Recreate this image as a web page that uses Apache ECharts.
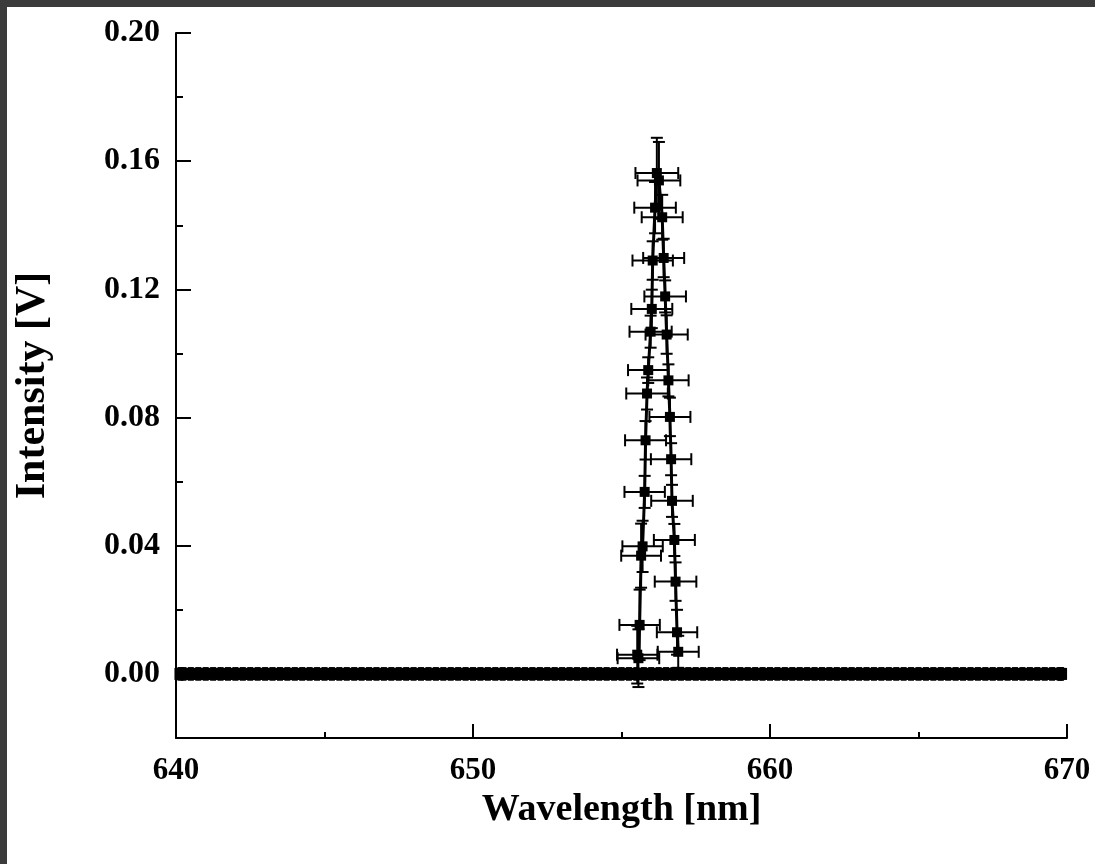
<!DOCTYPE html>
<html>
  <head>
    <meta charset="UTF-8" />
    <title>Wavelength scan</title>
    <script src="https://cdn.jsdelivr.net/npm/echarts@6/dist/echarts.min.js"></script>
    <style>
      body { margin: 0; background: #3b3b3b; }
      #chart { position: absolute; left: 7px; top: 7px; width: 1088px; height: 857px; background: #fff; }
    </style>
  </head>
  <body>
    <div id="chart"></div>
  </body>
  <script>
// peak: up the left branch, then down the right branch
const peakWave = [655.53, 655.57, 655.61, 655.66, 655.71, 655.78, 655.81, 655.86, 655.90, 655.98, 656.02, 656.05, 656.13, 656.19,
                  656.26, 656.37, 656.42, 656.47, 656.52, 656.58, 656.63, 656.67, 656.70, 656.78, 656.82, 656.87, 656.91];
const peakIntensity = [0.0060, 0.0049, 0.0153, 0.0369, 0.0398, 0.0568, 0.0729, 0.0875, 0.0948, 0.1068, 0.1139, 0.1290, 0.1455, 0.1563,
                       0.1540, 0.1425, 0.1298, 0.1178, 0.1059, 0.0916, 0.0802, 0.0670, 0.0540, 0.0418, 0.0288, 0.0130, 0.0069];
const peakWaveErr = [0.68, 0.70, 0.68, 0.67, 0.68, 0.68, 0.69, 0.70, 0.68, 0.71, 0.69, 0.68, 0.70, 0.72,
                     0.72, 0.69, 0.69, 0.70, 0.71, 0.68, 0.69, 0.68, 0.70, 0.69, 0.70, 0.68, 0.69];
const peakIntensityErr = [0.009, 0.009, 0.011, 0.010, 0.008, 0.005, 0.006, 0.005, 0.004, 0.005, 0.006, 0.006, 0.008, 0.011,
                          0.012, 0.007, 0.006, 0.005, 0.006, 0.005, 0.006, 0.005, 0.005, 0.005, 0.006, 0.007, 0.005];

// flat background readings
const baseWave = [
  640.15, 640.25, 640.5, 640.75, 641, 641.25, 641.5, 641.75, 642, 642.25, 642.5, 642.75,
  643, 643.25, 643.5, 643.75, 644, 644.25, 644.5, 644.75, 645, 645.25, 645.5, 645.75,
  646, 646.25, 646.5, 646.75, 647, 647.25, 647.5, 647.75, 648, 648.25, 648.5, 648.75,
  649, 649.25, 649.5, 649.75, 650, 650.25, 650.5, 650.75, 651, 651.25, 651.5, 651.75,
  652, 652.25, 652.5, 652.75, 653, 653.25, 653.5, 653.75, 654, 654.25, 654.5, 654.75,
  655, 655.25, 655.5, 655.75, 656, 656.25, 656.5, 656.75, 657, 657.25, 657.5, 657.75,
  658, 658.25, 658.5, 658.75, 659, 659.25, 659.5, 659.75, 660, 660.25, 660.5, 660.75,
  661, 661.25, 661.5, 661.75, 662, 662.25, 662.5, 662.75, 663, 663.25, 663.5, 663.75,
  664, 664.25, 664.5, 664.75, 665, 665.25, 665.5, 665.75, 666, 666.25, 666.5, 666.75,
  667, 667.25, 667.5, 667.75, 668, 668.25, 668.5, 668.75, 669, 669.25, 669.5, 669.75, 669.8
];
const baseIntensity = 0;
const baseIntensityErr = 0.0019;

const xTicks = [640, 650, 660, 670];
const yTicks = [0, 0.04, 0.08, 0.12, 0.16, 0.20];
const yMinorTicks = [0.02, 0.06, 0.10, 0.14, 0.18];

const serif = "'Liberation Serif', 'Times New Roman', serif";

let myChart = echarts.init(document.getElementById('chart'));

const peakData = peakWave.map((w, i) => [w, peakIntensity[i]]);
const peakErrData = peakWave.map((w, i) => [w, peakIntensity[i], peakWaveErr[i], peakIntensityErr[i]]);
const baseData = baseWave.map(w => [w, baseIntensity]);
const baseErrData = baseWave.map(w => [w, baseIntensity, 0, baseIntensityErr]);

function makeErrorBars(cap, lw, color) {
  return function (params, api) {
    const x = api.value(0), y = api.value(1), ex = api.value(2), ey = api.value(3);
    const style = { stroke: color, lineWidth: lw, fill: null };
    const kids = [];
    const lo = api.coord([x, y - ey]);
    const hi = api.coord([x, y + ey]);
    kids.push({ type: 'line', shape: { x1: lo[0], y1: lo[1], x2: hi[0], y2: hi[1] }, style });
    kids.push({ type: 'line', shape: { x1: lo[0] - cap, y1: lo[1], x2: lo[0] + cap, y2: lo[1] }, style });
    kids.push({ type: 'line', shape: { x1: hi[0] - cap, y1: hi[1], x2: hi[0] + cap, y2: hi[1] }, style });
    if (ex > 0) {
      const le = api.coord([x - ex, y]);
      const ri = api.coord([x + ex, y]);
      kids.push({ type: 'line', shape: { x1: le[0], y1: le[1], x2: ri[0], y2: ri[1] }, style });
      kids.push({ type: 'line', shape: { x1: le[0], y1: le[1] - cap, x2: le[0], y2: le[1] + cap }, style });
      kids.push({ type: 'line', shape: { x1: ri[0], y1: ri[1] - cap, x2: ri[0], y2: ri[1] + cap }, style });
    }
    return { type: 'group', children: kids };
  };
}

myChart.setOption({
  animation: false,
  grid: { left: 169, top: 26, right: 28, bottom: 126, outerBoundsMode: 'none' },
  xAxis: {
    type: 'value',
    min: 640, max: 670, interval: 10,
    name: 'Wavelength [nm]',
    nameLocation: 'middle',
    nameGap: 46,
    nameTextStyle: { fontFamily: serif, fontWeight: 'bold', fontSize: 38, color: '#000' },
    axisLine: { onZero: false, lineStyle: { color: '#000', width: 2 } },
    axisTick: { inside: true, length: 14, lineStyle: { color: '#000', width: 2 } },
    minorTick: { show: true, splitNumber: 2, length: 6, lineStyle: { color: '#000', width: 2 } },
    axisLabel: { margin: 17, fontFamily: serif, fontWeight: 'bold', fontSize: 31, color: '#000' },
    splitLine: { show: false }
  },
  yAxis: [
    {
      type: 'value',
      position: 'left',
      min: -0.02, max: 0.2, interval: 0.02,
      name: 'Intensity [V]',
      nameLocation: 'middle',
      nameGap: 122,
      nameTextStyle: { fontFamily: serif, fontWeight: 'bold', fontSize: 42, color: '#000' },
      axisLine: { onZero: false, lineStyle: { color: '#000', width: 2 } },
      axisTick: { inside: true, length: 15, customValues: yTicks, lineStyle: { color: '#000', width: 2 } },
      axisLabel: {
        margin: 16, customValues: yTicks,
        fontFamily: serif, fontWeight: 'bold', fontSize: 32, color: '#000',
        formatter: v => v.toFixed(2)
      },
      splitLine: { show: false }
    },
    {
      type: 'value',
      position: 'left',
      min: -0.02, max: 0.2, interval: 0.02,
      axisLine: { show: false },
      axisTick: { inside: true, length: 7, customValues: yMinorTicks, lineStyle: { color: '#000', width: 2 } },
      axisLabel: { show: false },
      splitLine: { show: false }
    }
  ],
  series: [
    {
      type: 'custom',
      renderItem: makeErrorBars(3, 1.5, '#000'),
      data: baseErrData,
      z: 1,
      silent: true
    },
    {
      type: 'line',
      data: baseData,
      symbol: 'rect',
      symbolSize: 12,
      itemStyle: { color: '#000' },
      lineStyle: { color: '#000', width: 2 },
      z: 2
    },
    {
      type: 'custom',
      renderItem: makeErrorBars(6, 2, '#000'),
      data: peakErrData,
      z: 3,
      silent: true
    },
    {
      type: 'line',
      data: peakData,
      symbol: 'rect',
      symbolSize: 10,
      itemStyle: { color: '#000' },
      lineStyle: { color: '#000', width: 3 },
      z: 4
    }
  ]
});
  </script>
</html>
